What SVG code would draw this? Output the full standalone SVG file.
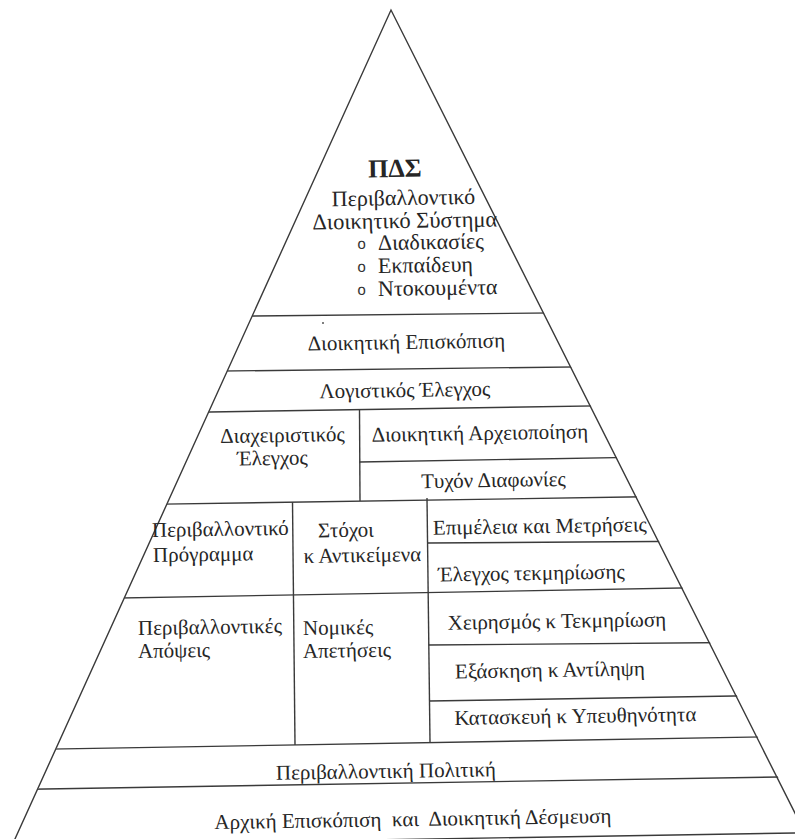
<svg xmlns="http://www.w3.org/2000/svg" width="795" height="839" viewBox="0 0 795 839">
<style>
.t{font-family:"Liberation Serif","Times New Roman",serif;font-size:21px;fill:#262626}
.c{text-anchor:middle}
.b{font-family:"Liberation Sans",Arial,sans-serif;font-size:15px;fill:#333}
.ln{stroke:#3a3a3a;stroke-width:1.4;fill:none}
</style>
<defs>
<clipPath id="tri"><polygon points="391,10 -3,880 830,880"/></clipPath>
</defs>
<rect width="795" height="839" fill="#fff"/>
<g id="connectors">
<polyline class="ln" points="14.5,840 391,10 810,843"/>
<g clip-path="url(#tri)">
<line class="ln" x1="0" y1="318.6" x2="795" y2="310.4"/>
<line class="ln" x1="0" y1="373.7" x2="795" y2="364.3"/>
<line class="ln" x1="0" y1="415.3" x2="795" y2="402.8"/>
<line class="ln" x1="359.5" y1="462" x2="795" y2="454.5"/>
<line class="ln" x1="0" y1="506.6" x2="795" y2="494.5"/>
<line class="ln" x1="427.5" y1="543" x2="795" y2="540.5"/>
<line class="ln" x1="0" y1="600.2" x2="795" y2="586"/>
<line class="ln" x1="428.5" y1="645" x2="795" y2="642"/>
<line class="ln" x1="429.5" y1="701" x2="795" y2="695"/>
<line class="ln" x1="0" y1="750" x2="795" y2="736.3"/>
<line class="ln" x1="0" y1="789.7" x2="795" y2="776.7"/>
<line class="ln" x1="0" y1="846" x2="795" y2="833"/>
</g>
<line class="ln" x1="359.5" y1="409.5" x2="360" y2="501"/>
<line class="ln" x1="292.5" y1="502" x2="295" y2="745"/>
<line class="ln" x1="427" y1="498" x2="430" y2="742"/>
</g>
<circle cx="323" cy="323" r="1" fill="#555"/>
<g id="apex">
<text class="t c" x="395" y="177" style="font-size:26px;font-weight:bold" transform="rotate(-0.9 395 177)">ΠΔΣ</text>
<text class="t c" x="403.5" y="205" style="font-size:22px" transform="rotate(-0.9 403.5 205)">Περιβαλλοντικό</text>
<text class="t c" x="405" y="228" style="font-size:22.5px" transform="rotate(-0.9 405 228)">Διοικητικό Σύστημα</text>
<text class="b" x="357.5" y="249" transform="rotate(-0.9 357.5 249)">o</text>
<text class="t" x="378" y="250" style="font-size:22px" transform="rotate(-0.9 378 250)">Διαδικασίες</text>
<text class="b" x="357.5" y="272" transform="rotate(-0.9 357.5 272)">o</text>
<text class="t" x="378" y="273" style="font-size:22px" transform="rotate(-0.9 378 273)">Εκπαίδευη</text>
<text class="b" x="357.5" y="295" transform="rotate(-0.9 357.5 295)">o</text>
<text class="t" x="378" y="296" style="font-size:22px" transform="rotate(-0.9 378 296)">Ντοκουμέντα</text>
</g>
<g id="review"><text class="t c" x="406.5" y="349" transform="rotate(-0.9 406.5 349)">Διοικητική Επισκόπιση</text></g>
<g id="audit"><text class="t c" x="405" y="397" transform="rotate(-0.9 405 397)">Λογιστικός Έλεγχος</text></g>
<g id="mgmt-check">
<text class="t c" x="282.5" y="442" transform="rotate(-0.9 282.5 442)">Διαχειριστικός</text>
<text class="t c" x="272.5" y="465" transform="rotate(-0.9 272.5 465)">Έλεγχος</text>
</g>
<g id="archiving"><text class="t c" x="480" y="440" transform="rotate(-0.9 480 440)">Διοικητική Αρχειοποίηση</text></g>
<g id="disputes"><text class="t c" x="493.5" y="487" transform="rotate(-0.9 493.5 487)">Τυχόν Διαφωνίες</text></g>
<g id="program">
<text class="t" x="152" y="537" transform="rotate(-0.9 152 537)">Περιβαλλοντικό</text>
<text class="t" x="153" y="562" transform="rotate(-0.9 153 562)">Πρόγραμμα</text>
</g>
<g id="targets">
<text class="t c" x="346" y="537" transform="rotate(-0.9 346 537)">Στόχοι</text>
<text class="t c" x="362.5" y="562" transform="rotate(-0.9 362.5 562)">κ Αντικείμενα</text>
</g>
<g id="monitoring"><text class="t c" x="540" y="533" transform="rotate(-0.9 540 533)">Επιμέλεια και Μετρήσεις</text></g>
<g id="doc-check"><text class="t c" x="531.5" y="580" transform="rotate(-0.9 531.5 580)">Έλεγχος τεκμηρίωσης</text></g>
<g id="aspects">
<text class="t" x="138" y="635" transform="rotate(-0.9 138 635)">Περιβαλλοντικές</text>
<text class="t" x="138" y="658" transform="rotate(-0.9 138 658)">Απόψεις</text>
</g>
<g id="legal">
<text class="t" x="303" y="635" transform="rotate(-0.9 303 635)">Νομικές</text>
<text class="t" x="303" y="658" transform="rotate(-0.9 303 658)">Απετήσεις</text>
</g>
<g id="handling"><text class="t c" x="557" y="628" transform="rotate(-0.9 557 628)">Χειρησμός κ Τεκμηρίωση</text></g>
<g id="training"><text class="t c" x="550" y="677" transform="rotate(-0.9 550 677)">Εξάσκηση κ Αντίληψη</text></g>
<g id="structure"><text class="t c" x="575.5" y="723" transform="rotate(-0.9 575.5 723)">Κατασκευή κ Υπευθηνότητα</text></g>
<g id="policy"><text class="t c" x="386" y="778" transform="rotate(-0.9 386 778)">Περιβαλλοντική Πολιτική</text></g>
<g id="initial"><text class="t c" x="413" y="826" xml:space="preserve" transform="rotate(-0.9 413 826)">Αρχική Επισκόπιση  και  Διοικητική Δέσμευση</text></g>
</svg>
